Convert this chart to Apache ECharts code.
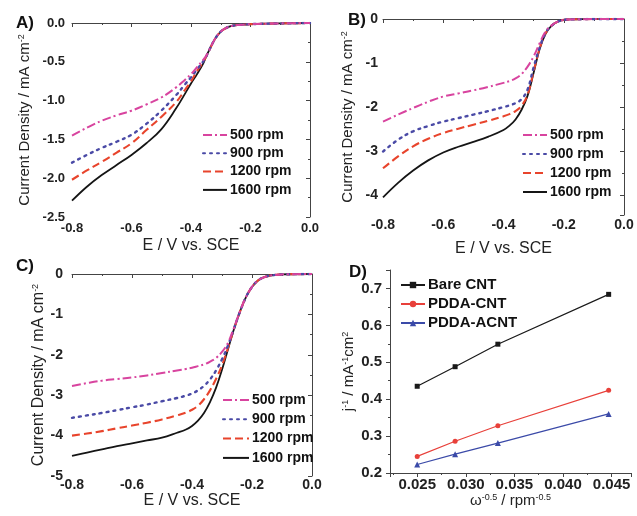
<!DOCTYPE html>
<html><head><meta charset="utf-8">
<script src="https://cdn.jsdelivr.net/npm/echarts@6/dist/echarts.min.js"></script>
<style>html,body{margin:0;padding:0;background:#fff}#c{width:637px;height:516px}</style>
</head><body><div id="c"></div>
<script>
// ---------- data ----------
const rpmNames = ['500 rpm', '900 rpm', '1200 rpm', '1600 rpm'];

const potA = [-0.8,-0.75,-0.7,-0.65,-0.6,-0.55,-0.5,-0.45,-0.42,-0.4,-0.38,-0.36,-0.35,-0.34,-0.32,-0.3,-0.28,-0.26,-0.24,-0.22,-0.2,-0.1,0];
const A500  = [-1.45,-1.35,-1.26,-1.19,-1.13,-1.05,-0.96,-0.83,-0.73,-0.66,-0.57,-0.48,-0.43,-0.36,-0.21,-0.11,-0.06,-0.035,-0.025,-0.02,-0.015,-0.005,0];
const A900  = [-1.80,-1.70,-1.61,-1.53,-1.44,-1.30,-1.13,-0.93,-0.79,-0.70,-0.60,-0.50,-0.44,-0.36,-0.21,-0.11,-0.06,-0.035,-0.025,-0.02,-0.015,-0.005,0];
const A1200 = [-2.02,-1.90,-1.79,-1.67,-1.55,-1.38,-1.21,-1.02,-0.86,-0.75,-0.62,-0.51,-0.44,-0.36,-0.21,-0.11,-0.06,-0.035,-0.025,-0.02,-0.015,-0.005,0];
const A1600 = [-2.29,-2.11,-1.96,-1.83,-1.70,-1.55,-1.37,-1.10,-0.91,-0.78,-0.66,-0.53,-0.44,-0.36,-0.21,-0.11,-0.06,-0.035,-0.025,-0.02,-0.015,-0.005,0];

const potB = [-0.8,-0.75,-0.7,-0.65,-0.6,-0.55,-0.5,-0.45,-0.4,-0.38,-0.36,-0.34,-0.32,-0.3,-0.28,-0.26,-0.24,-0.22,-0.2,-0.18,-0.15,-0.1,0];
const B500  = [-2.33,-2.17,-2.02,-1.88,-1.76,-1.69,-1.62,-1.54,-1.45,-1.41,-1.35,-1.25,-1.08,-0.85,-0.55,-0.28,-0.14,-0.06,-0.02,-0.01,-0.005,0,0];
const B900  = [-3.01,-2.74,-2.55,-2.43,-2.33,-2.25,-2.17,-2.09,-2.00,-1.96,-1.91,-1.82,-1.60,-1.10,-0.65,-0.31,-0.15,-0.06,-0.02,-0.01,-0.005,0,0];
const B1200 = [-3.39,-3.12,-2.89,-2.72,-2.59,-2.49,-2.40,-2.31,-2.21,-2.16,-2.09,-1.97,-1.72,-1.19,-0.67,-0.32,-0.15,-0.06,-0.02,-0.01,-0.005,0,0];
const B1600 = [-4.05,-3.72,-3.44,-3.21,-3.03,-2.90,-2.79,-2.67,-2.52,-2.42,-2.28,-2.06,-1.74,-1.22,-0.68,-0.33,-0.15,-0.06,-0.02,-0.01,-0.005,0,0];

const potC = [-0.8,-0.75,-0.7,-0.65,-0.6,-0.55,-0.5,-0.45,-0.42,-0.4,-0.38,-0.36,-0.34,-0.32,-0.3,-0.28,-0.26,-0.24,-0.22,-0.2,-0.18,-0.16,-0.14,-0.1,0];
const C500  = [-2.77,-2.70,-2.64,-2.60,-2.56,-2.51,-2.45,-2.39,-2.35,-2.32,-2.28,-2.24,-2.17,-2.08,-1.93,-1.70,-1.33,-0.92,-0.57,-0.32,-0.16,-0.08,-0.04,-0.01,0];
const C900  = [-3.56,-3.50,-3.44,-3.37,-3.30,-3.23,-3.15,-3.07,-3.01,-2.96,-2.88,-2.77,-2.61,-2.39,-2.11,-1.77,-1.35,-0.93,-0.57,-0.32,-0.16,-0.08,-0.04,-0.01,0];
const C1200 = [-4.00,-3.95,-3.89,-3.82,-3.75,-3.68,-3.60,-3.50,-3.43,-3.36,-3.26,-3.10,-2.88,-2.60,-2.26,-1.83,-1.36,-0.93,-0.57,-0.32,-0.16,-0.08,-0.04,-0.01,0];
const C1600 = [-4.50,-4.42,-4.34,-4.26,-4.19,-4.12,-4.05,-3.93,-3.85,-3.76,-3.63,-3.44,-3.17,-2.82,-2.37,-1.86,-1.36,-0.93,-0.57,-0.32,-0.16,-0.08,-0.04,-0.01,0];

const dNames = ['Bare CNT', 'PDDA-CNT', 'PDDA-ACNT'];
const omegaInv = [0.025, 0.0289, 0.0333, 0.0447];
const DBare  = [0.435, 0.488, 0.549, 0.684];
const DPdda  = [0.245, 0.286, 0.328, 0.424];
const DAcnt  = [0.223, 0.251, 0.281, 0.360];

// ---------- styles ----------
const FF = 'Liberation Sans, Arial, sans-serif';
const rpmColors = ['#d8449f', '#4a4aa6', '#e8442c', '#151515'];
const rpmDash = [[9,3,2,3], [2,5], [8,4], 'solid'];
const rpmWidth = [2.0, 2.4, 2.1, 1.8];
const dColors = ['#1a1a1a', '#e8403a', '#3b4aa8'];
const dSymbols = ['rect', 'circle', 'triangle'];

const zip = (xs, ys) => xs.map((x, i) => [x, ys[i]]);

function xAxisE(grid, fs, margin, gap) {
  return {
    type: 'value', gridIndex: grid, min: -0.8, max: 0, interval: 0.2,
    axisLine: {lineStyle: {color: '#444', width: 1}},
    axisTick: {inside: false, length: 4, lineStyle: {color: '#444'}},
    minorTick: {show: true, splitNumber: 2, length: 2, lineStyle: {color: '#444'}},
    splitLine: {show: false},
    axisLabel: {margin: margin, fontSize: fs, fontWeight: 'bold', fontFamily: FF, color: '#222',
      formatter: v => v.toFixed(1)},
    name: 'E / V vs. SCE', nameLocation: 'middle', nameGap: gap,
    nameTextStyle: {fontSize: 16, fontFamily: FF, color: '#222'}
  };
}
function yName(gap, fs) {
  return {
    name: 'Current Density / mA cm{s|-2}', nameLocation: 'middle', nameGap: gap,
    nameTextStyle: {fontSize: fs, fontFamily: FF, color: '#222',
      rich: {s: {fontSize: 9, fontFamily: FF, color: '#222', verticalAlign: 'top'}}}
  };
}
const commonY = {
  type: 'value',
  axisLine: {show: true, lineStyle: {color: '#444', width: 1}},
  axisTick: {show: true, inside: false, length: 4, lineStyle: {color: '#444'}},
  minorTick: {show: true, splitNumber: 2, length: 2, lineStyle: {color: '#444'}},
  splitLine: {show: false}
};

const xAxes = [
  xAxisE(0, 13, 5, 21),
  xAxisE(1, 14, 3, 26),
  xAxisE(2, 14, 2, 14),
  {
    type: 'value', gridIndex: 3, min: 0.0222, max: 0.047, splitNumber: 5,
    axisLine: {lineStyle: {color: '#444', width: 1}},
    axisTick: {inside: false, length: 4, lineStyle: {color: '#444'}},
    minorTick: {show: true, splitNumber: 2, length: 2, lineStyle: {color: '#444'}},
    splitLine: {show: false},
    axisLabel: {margin: 4, fontSize: 15, fontWeight: 'bold', fontFamily: FF, color: '#222',
      showMinLabel: false, showMaxLabel: false,
      formatter: v => Math.abs(v / 0.005 - Math.round(v / 0.005)) < 1e-6 ? v.toFixed(3) : ''},
    name: 'ω{s|-0.5} / rpm{s|-0.5}', nameLocation: 'middle', nameGap: 20,
    nameTextStyle: {fontSize: 15, fontFamily: FF, color: '#222',
      rich: {s: {fontSize: 9, fontFamily: FF, color: '#222', verticalAlign: 'top'}}}
  }
];

const yAxes = [
  Object.assign({}, commonY, yName(40, 15), {gridIndex: 0, min: -2.5, max: 0, interval: 0.5,
    axisLabel: {margin: 7, fontSize: 13, fontWeight: 'bold', fontFamily: FF, color: '#222', formatter: v => v.toFixed(1)}}),
  Object.assign({}, commonY, yName(28, 15), {gridIndex: 1, min: -4.45, max: 0, splitNumber: 5,
    axisLabel: {margin: 5, fontSize: 14, fontWeight: 'bold', fontFamily: FF, color: '#222', showMinLabel: false,
      formatter: v => Math.abs(v - Math.round(v)) < 1e-9 ? String(Math.round(v)) : ''}}),
  Object.assign({}, commonY, yName(25, 16), {gridIndex: 2, min: -5, max: 0, interval: 1,
    axisLabel: {margin: 9, fontSize: 14, fontWeight: 'bold', fontFamily: FF, color: '#222',
      formatter: v => String(Math.round(v))}}),
  Object.assign({}, commonY, {gridIndex: 3, min: 0.2, max: 0.75, interval: 0.1,
    axisLabel: {margin: 8, fontSize: 15, fontWeight: 'bold', fontFamily: FF, color: '#222', showMaxLabel: false,
      formatter: v => Math.abs(v * 10 - Math.round(v * 10)) < 1e-6 ? v.toFixed(1) : ''},
    name: 'j{s|-1} / mA{s|-1}cm{s|2}', nameLocation: 'middle', nameGap: 34,
    nameTextStyle: {fontSize: 15, fontFamily: FF, color: '#222',
      rich: {s: {fontSize: 9, fontFamily: FF, color: '#222', verticalAlign: 'top'}}}})
];

const series = [];
const rpmSets = [
  [potA, [A500, A900, A1200, A1600]],
  [potB, [B500, B900, B1200, B1600]],
  [potC, [C500, C900, C1200, C1600]]
];
rpmSets.forEach(([pot, sets], g) => {
  sets.forEach((vals, k) => {
    series.push({
      type: 'line', name: rpmNames[k], xAxisIndex: g, yAxisIndex: g,
      data: zip(pot, vals), symbol: 'none', showSymbol: false,
      smooth: 0.4, z: 10 - k,
      lineStyle: {color: rpmColors[k], width: rpmWidth[k], type: rpmDash[k], cap: k === 1 ? 'round' : 'butt', join: 'round'},
      itemStyle: {color: rpmColors[k]}
    });
  });
});
[DBare, DPdda, DAcnt].forEach((vals, k) => {
  series.push({
    type: 'line', name: dNames[k], xAxisIndex: 3, yAxisIndex: 3,
    data: zip(omegaInv, vals), symbol: dSymbols[k], symbolSize: k === 2 ? 6 : 5, showSymbol: true,
    lineStyle: {color: dColors[k], width: 1.2}, itemStyle: {color: dColors[k]}
  });
});

function legend(left, top, gap, iw, fs, data, hideSymbol) {
  const l = {
    orient: 'vertical', left: left, top: top, padding: 0, itemGap: gap,
    itemWidth: iw, itemHeight: 8, selectedMode: false, data: data,
    textStyle: {fontSize: fs, fontWeight: 'bold', fontFamily: FF, color: '#111', lineHeight: 16, padding: [0,0,0,-2]}
  };
  if (hideSymbol) l.itemStyle = {opacity: 0, color: 'rgba(0,0,0,0)', borderWidth: 0};
  return l;
}

const panelLabel = (t, l, tp) => ({type: 'text', left: l, top: tp,
  style: {text: t, font: 'bold 17px ' + FF, fill: '#111'}});

const chart = echarts.init(document.getElementById('c'), null, {renderer: 'canvas'});
chart.setOption({
  animation: false,
  backgroundColor: '#fff',
  grid: [
    {left: 72, top: 23, width: 238, height: 194},
    {left: 383, top: 19, width: 241, height: 196},
    {left: 72, top: 274, width: 240, height: 202},
    {left: 390, top: 270, width: 241, height: 203}
  ],
  xAxis: xAxes,
  yAxis: yAxes,
  legend: [
    legend(202, 127, 2.3, 24, 14, rpmNames, true),
    legend(522, 127, 3, 24, 14, rpmNames, true),
    legend(222, 392, 3.3, 26, 14, rpmNames, true),
    legend(400, 277, 3, 24, 15, dNames, false)
  ],
  graphic: [
    panelLabel('A)', 16, 15),
    panelLabel('B)', 348, 12),
    panelLabel('C)', 16, 258),
    panelLabel('D)', 349, 264)
  ],
  series: series
});
</script></body></html>
